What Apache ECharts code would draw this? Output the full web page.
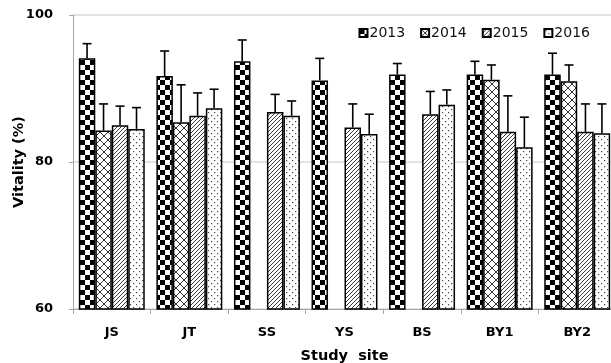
<!DOCTYPE html>
<html>
<head>
<meta charset="utf-8">
<script src="https://cdn.jsdelivr.net/npm/echarts@6/dist/echarts.min.js"></script>
<style>
  html, body { margin: 0; padding: 0; background: #fff; }
  #chart { width: 611px; height: 363px; }
</style>
</head>
<body>
<div id="chart"></div>
<script>
// Study sites and yearly vitality means (%) with standard deviations
const sites = ['JS', 'JT', 'SS', 'YS', 'BS', 'BY1', 'BY2'];
const years = ['2013', '2014', '2015', '2016'];
const v2013 = [94.1, 91.7, 93.7, 91.1, 91.9, 91.9, 91.9];
const v2014 = [84.3, 85.4, null, null, null, 91.2, 91.0];
const v2015 = [85.0, 86.3, 86.8, 84.7, 86.5, 84.1, 84.1];
const v2016 = [84.5, 87.3, 86.3, 83.8, 87.8, 82.0, 83.9];
const sd2013 = [2.0, 3.4, 2.9, 3.0, 1.5, 1.8, 2.9];
const sd2014 = [3.6, 5.1, null, null, null, 2.0, 2.2];
const sd2015 = [2.6, 3.1, 2.4, 3.2, 3.1, 4.9, 3.8];
const sd2016 = [2.9, 2.6, 2.0, 2.7, 2.0, 4.1, 4.0];
const yTicks = { min: 60, max: 100, interval: 20 };

const means = [v2013, v2014, v2015, v2016];
const sds = [sd2013, sd2014, sd2015, sd2016];

// Fill patterns for each year
function makeCanvas(w, h, draw) {
  const c = document.createElement('canvas');
  c.width = w; c.height = h;
  const ctx = c.getContext('2d');
  ctx.fillStyle = '#fff';
  ctx.fillRect(0, 0, w, h);
  draw(ctx);
  return c;
}
const checker = makeCanvas(10, 10, ctx => {
  ctx.fillStyle = '#000';
  ctx.fillRect(0, 0, 5, 5);
  ctx.fillRect(5, 5, 5, 5);
});
const cross = makeCanvas(8, 8, ctx => {
  ctx.strokeStyle = '#333';
  ctx.lineWidth = 1;
  ctx.beginPath();
  ctx.moveTo(0, 0); ctx.lineTo(8, 8);
  ctx.moveTo(8, 0); ctx.lineTo(0, 8);
  ctx.stroke();
});
const diag = makeCanvas(4, 4, ctx => {
  ctx.strokeStyle = '#222';
  ctx.lineWidth = 0.9;
  ctx.beginPath();
  ctx.moveTo(0, 4); ctx.lineTo(4, 0);
  ctx.moveTo(-1, 1); ctx.lineTo(1, -1);
  ctx.moveTo(3, 5); ctx.lineTo(5, 3);
  ctx.stroke();
});
const dots = makeCanvas(6, 6, ctx => {
  ctx.fillStyle = '#444';
  ctx.fillRect(1, 1, 1.2, 1.2);
  ctx.fillRect(4, 4, 1.2, 1.2);
});
const patterns = [checker, cross, diag, dots];

const CAT_GAP = 0.15;
const N = years.length;

const barSeries = years.map((y, k) => ({
  name: y,
  type: 'bar',
  barGap: '0%',
  barCategoryGap: (CAT_GAP * 100) + '%',
  data: means[k],
  itemStyle: {
    color: { image: patterns[k], repeat: 'repeat' },
    borderColor: '#000',
    borderWidth: 1.5
  },
  emphasis: { disabled: true },
  z: 2
}));

// Upper error whiskers drawn on top of each bar
const errSeries = years.map((y, k) => ({
  name: 'sd' + y,
  type: 'custom',
  data: sites.map((s, i) => [i, means[k][i], sds[k][i]]).filter(d => d[1] != null),
  encode: { x: 0, y: 1 },
  z: 3,
  silent: true,
  renderItem: function (params, api) {
    const idx = api.value(0);
    const m = api.value(1);
    const e = api.value(2);
    const band = api.size([1, 0])[0];
    const bw = band * (1 - CAT_GAP) / N;
    const base = api.coord([idx, m]);
    const top = api.coord([idx, m + e]);
    const x = base[0] + (k - (N - 1) / 2) * bw;
    const cap = 4.5;
    const st = { stroke: '#000', lineWidth: 1.6 };
    return {
      type: 'group',
      children: [
        { type: 'line', shape: { x1: x, y1: base[1], x2: x, y2: top[1] }, style: st },
        { type: 'line', shape: { x1: x - cap, y1: top[1], x2: x + cap, y2: top[1] }, style: st }
      ]
    };
  }
}));

const chart = echarts.init(document.getElementById('chart'), null, { renderer: 'canvas' });
chart.setOption({
  animation: false,
  backgroundColor: '#fff',
  grid: { left: 73, right: -5, top: 15, bottom: 54, containLabel: false, outerBoundsMode: 'none' },
  legend: {
    data: years,
    right: 16,
    top: 21,
    icon: 'rect',
    itemWidth: 8,
    itemHeight: 8,
    itemGap: 15,
    textStyle: { fontFamily: 'DejaVu Sans', fontSize: 14, color: '#111', padding: [0, 0, 0, -3] }
  },
  xAxis: {
    type: 'category',
    data: sites,
    name: 'Study  site',
    nameLocation: 'middle',
    nameGap: 40,
    nameMoveOverlap: false,
    nameTextStyle: { fontFamily: 'DejaVu Sans', fontWeight: 'bold', fontSize: 14.5, color: '#000' },
    axisLine: { lineStyle: { color: '#a6a6a6', width: 1 } },
    axisTick: { show: true, length: 5, lineStyle: { color: '#a6a6a6' } },
    axisLabel: { fontFamily: 'DejaVu Sans', fontWeight: 'bold', fontSize: 13, color: '#000', margin: 17 }
  },
  yAxis: {
    type: 'value',
    min: yTicks.min,
    max: yTicks.max,
    interval: yTicks.interval,
    name: 'Vitality (%)',
    nameLocation: 'middle',
    nameGap: 46,
    nameMoveOverlap: false,
    nameTextStyle: { fontFamily: 'DejaVu Sans', fontWeight: 'bold', fontSize: 14.5, color: '#000' },
    axisLine: { show: true, lineStyle: { color: '#a6a6a6', width: 1 } },
    axisTick: { show: true, length: 4, lineStyle: { color: '#a6a6a6' } },
    splitLine: { lineStyle: { color: '#d9d9d9', width: 1.5 } },
    axisLabel: { fontFamily: 'DejaVu Sans', fontWeight: 'bold', fontSize: 13, color: '#000', margin: 20 }
  },
  series: barSeries.concat(errSeries)
});
</script>
</body>
</html>
